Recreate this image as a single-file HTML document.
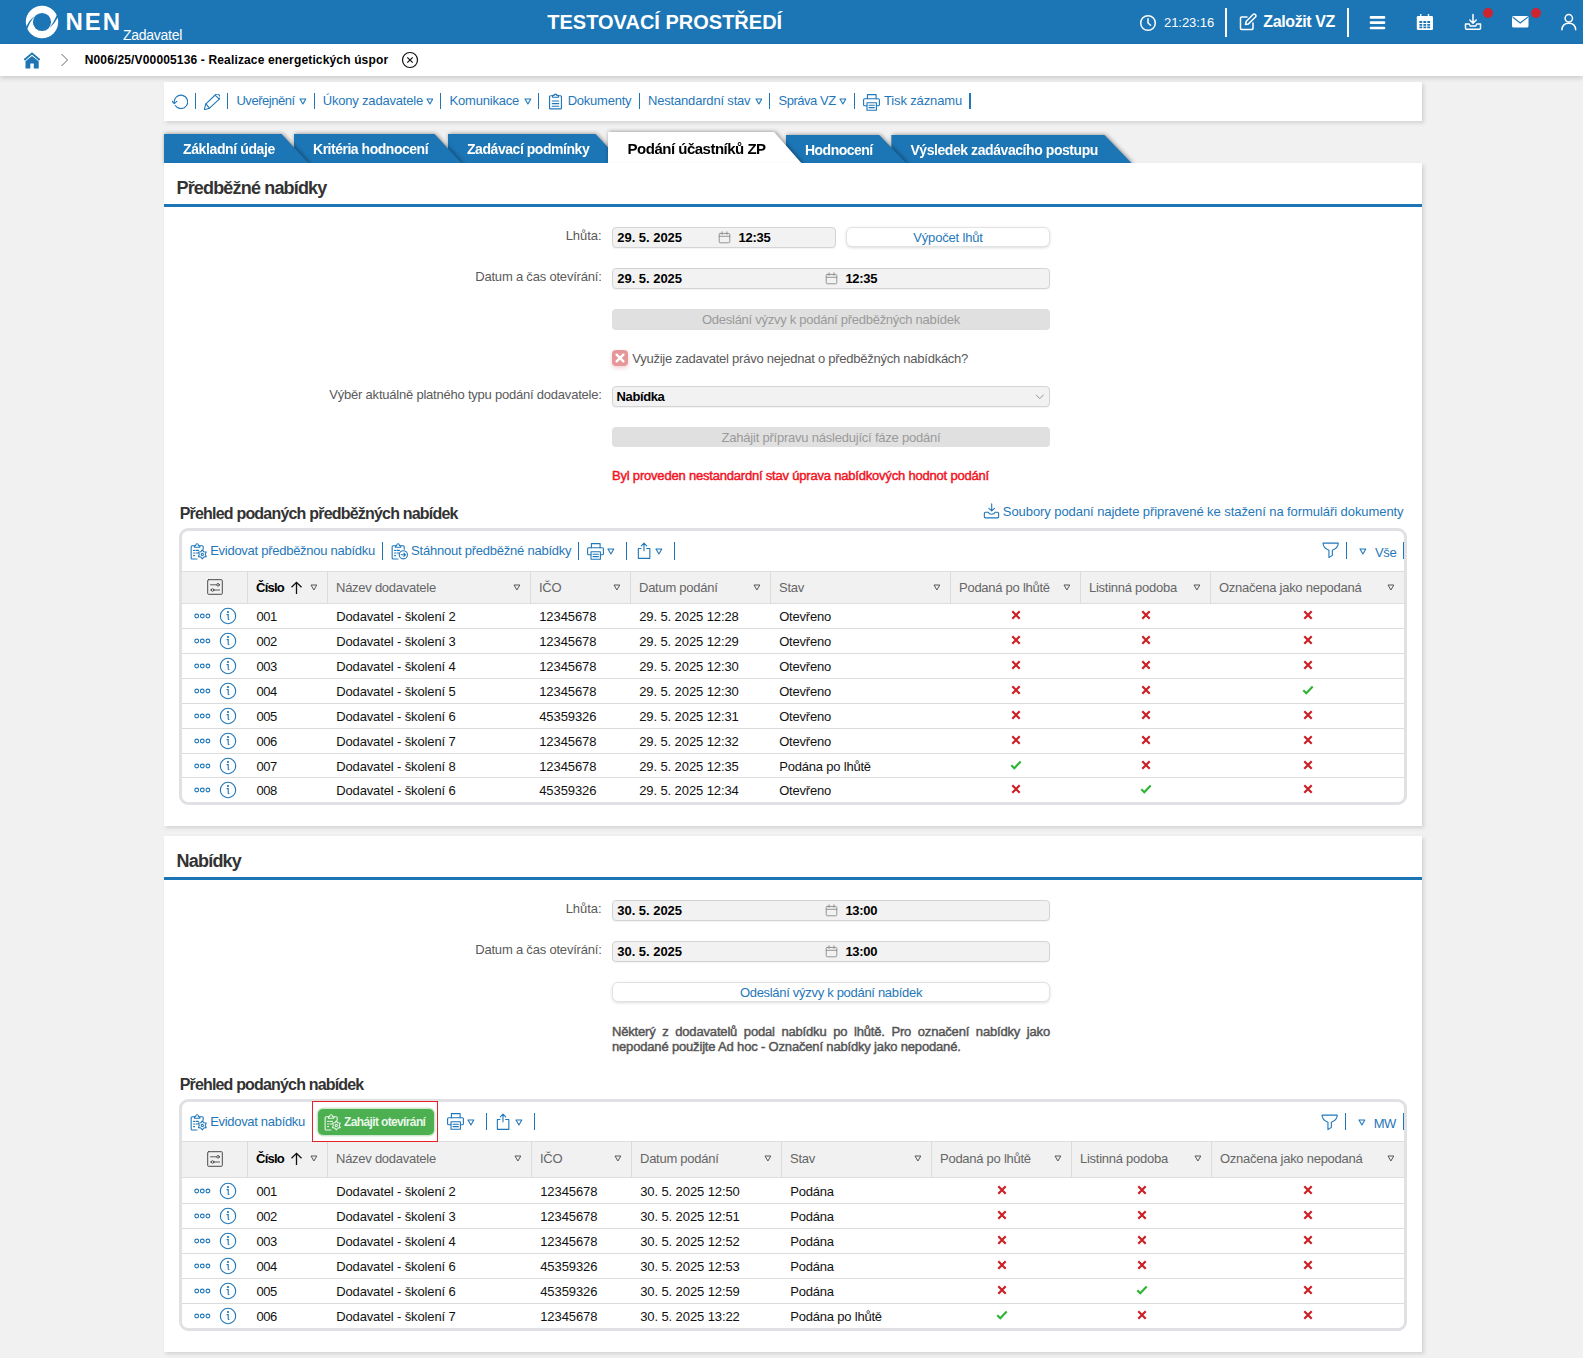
<!DOCTYPE html>
<html lang="cs"><head><meta charset="utf-8"><title>NEN - Podání účastníků ZP</title>
<style>
html,body{margin:0;padding:0}
body{width:1583px;height:1358px;position:relative;overflow:hidden;background:#f1f1f1;font-family:"Liberation Sans",sans-serif;font-size:13px;color:#111}
.abs{position:absolute}
.t{white-space:nowrap;letter-spacing:-0.22px}
.b{font-weight:700}
.m{font-weight:400;-webkit-text-stroke:0.45px currentColor}
.lk{color:#1f77ba}
.gr{color:#5a5a5a}
.panel{position:absolute;background:#fff;box-shadow:2px 2px 4px rgba(0,0,0,.13)}
.inp{position:absolute;box-sizing:border-box;background:#f2f2f2;border:1px solid #d4d4d4;border-radius:4px;box-shadow:0 1px 1px rgba(0,0,0,.05)}
.btnd{position:absolute;background:#e0e0e0;border-radius:4px;color:#9a9a9a;text-align:center}
.btnw{position:absolute;box-sizing:border-box;background:#fff;border:1px solid #e2e2e2;border-radius:6px;color:#1f77ba;text-align:center;box-shadow:0 1px 3px rgba(0,0,0,.14)}
.grid{position:absolute;box-sizing:border-box;border:3px solid #dfe1e4;border-radius:9px;background:#fff}
.hd{position:absolute;background:#f1f1f1;border-top:1px solid #dedede;border-bottom:1px solid #dedede;box-sizing:border-box}
.vl{position:absolute;width:1px;background:#dcdcdc}
.hl{position:absolute;height:1px;background:#dcdcdc}
.tab{position:absolute;background:#1c75b4;color:#fff;font-weight:700;font-size:14px;box-sizing:border-box;padding-left:19px;white-space:nowrap}
.tw{position:absolute;filter:drop-shadow(1px 0 2px rgba(0,0,0,.45))}
</style></head><body>
<div class="abs" style="left:0;top:0;width:1583px;height:44px;background:#1c75b4"></div><svg class="abs" style="left:24px;top:4px" width="36" height="36" viewBox="-18 -18 36 36"><circle cx="0" cy="0" r="16.200" fill="#fff"/><circle cx="0" cy="0" r="9.100" fill="#1c75b4"/><path d="M-7.400 -6.300Q-12.600 -2 -16.300 5.200L-15.200 7.700Q-12.200 0.300 -7.900 -5.500Z" fill="#1c75b4"/><path d="M7.400 6.300Q12.600 2 16.300 -5.200L15.200 -7.700Q12.200 -0.300 7.900 5.500Z" fill="#1c75b4"/></svg><div class="abs t b" style="left:65.5px;top:6px;height:32px;line-height:32px;font-size:24px;letter-spacing:2px;color:#fff">NEN</div><div class="abs t " style="left:123px;top:26px;height:18px;line-height:18px;font-size:14px;color:#fff;letter-spacing:-0.28px">Zadavatel</div><div class="abs t b" style="left:547.3px;top:9px;height:26px;line-height:26px;font-size:20px;color:#fff;letter-spacing:0px">TESTOVACÍ PROSTŘEDÍ</div><svg class="abs" style="left:1139px;top:13.500px" width="18" height="18" viewBox="0 0 18 18" fill="none" stroke="#fff" stroke-width="1.500" stroke-linecap="round" stroke-linejoin="round"><circle cx="9" cy="9" r="7.300"/><path d="M9 4.800V9l2.600 2.200"/></svg><div class="abs t " style="left:1164px;top:14px;height:18px;line-height:18px;color:#fff;letter-spacing:-0.05px">21:23:16</div><div class="abs" style="left:1225.0px;top:8px;width:2px;height:29px;background:#fff"></div><svg class="abs" style="left:1239px;top:12.500px" width="18" height="18" viewBox="0 0 18 18" fill="none" stroke="#fff" stroke-width="1.500" stroke-linecap="round" stroke-linejoin="round"><path d="M14 10v5.500a1 1 0 0 1-1 1H2.500a1 1 0 0 1-1-1V5a1 1 0 0 1 1-1H8"/><path d="M6.500 11.500l.6-3L14.300 1.300a1.200 1.200 0 0 1 1.700 0l.7.700a1.200 1.200 0 0 1 0 1.700L9.500 10.900z"/></svg><div class="abs t b" style="left:1263.3px;top:11px;height:22px;line-height:22px;font-size:16px;color:#fff;letter-spacing:-0.39px">Založit VZ</div><div class="abs" style="left:1347.3px;top:8px;width:2px;height:29px;background:#fff"></div><svg class="abs" style="left:1368.500px;top:14.500px" width="17" height="16" viewBox="0 0 17 16"><path d="M2 2.400h13M2 7.700h13M2 13h13" stroke="#fff" stroke-width="2.700" stroke-linecap="round"/></svg><svg class="abs" style="left:1416px;top:14px" width="18" height="17" viewBox="0 0 18 17"><rect x=".800" y="2" width="16.200" height="14" rx="1.300" fill="#fff"/><path d="M4.700 .300v3M12.500 .300v3" stroke="#fff" stroke-width="1.400" stroke-linecap="round"/><path d="M3.4 6.9h2.800v2.1h-2.800zM3.4 9.9h2.800v1.9h-2.800zM3.4 12.5h2.800v1.7h-2.800zM7.4 6.9h2.800v2.1h-2.800zM7.4 9.9h2.800v1.9h-2.800zM7.4 12.5h2.800v1.7h-2.800zM11.3 6.9h2.800v2.1h-2.800zM11.3 9.9h2.800v1.9h-2.800zM11.3 12.5h2.800v1.7h-2.800z" fill="#1c75b4"/></svg><svg class="abs" style="left:1464px;top:13px" width="18" height="18" viewBox="0 0 18 18" fill="none" stroke="#fff" stroke-width="1.500" stroke-linecap="round" stroke-linejoin="round"><path d="M9 1.500v8.500M5.800 7L9 10.200L12.200 7"/><path d="M1.500 11h3.800l.9 2h5.600l.9-2h3.800v4.200a1 1 0 0 1-1 1H2.500a1 1 0 0 1-1-1z"/></svg><div class="abs" style="left:1483px;top:8px;width:10px;height:10px;border-radius:50%;background:#cc2530"></div><svg class="abs" style="left:1512.300px;top:16.300px" width="16.500" height="11.500" viewBox="0 0 16.500 11.500"><rect x="0" y="0" width="16.500" height="11.500" rx="1.500" fill="#fff"/><path d="M.800 1.200L8.250 7L15.700 1.200" stroke="#1c75b4" stroke-width="1.100" fill="none"/></svg><div class="abs" style="left:1531px;top:8px;width:10px;height:10px;border-radius:50%;background:#cc2530"></div><svg class="abs" style="left:1560px;top:13px" width="18" height="18" viewBox="0 0 18 18" fill="none" stroke="#fff" stroke-width="1.500" stroke-linecap="round"><circle cx="8.800" cy="5.300" r="3.700"/><path d="M1.900 16.800c.3-4.300 3.200-6.500 6.900-6.500s6.600 2.200 6.900 6.500"/></svg><div class="abs" style="left:0;top:44px;width:1583px;height:32px;background:#fff;box-shadow:0 2px 5px rgba(0,0,0,.17)"></div><svg class="abs" style="left:24px;top:51.500px" width="16" height="17" viewBox="0 0 16 17"><path d="M0.900 7.500L8 1.400L15.100 7.500" fill="none" stroke="#1c75b4" stroke-width="1.900" stroke-linecap="round" stroke-linejoin="miter"/><path d="M1.500 9.300L8 4.100L14.700 9.300V16.400H9.800V11.400H6.300V16.400H1.500Z" fill="#1c75b4"/></svg><svg class="abs" style="left:60px;top:53px" width="9" height="14" viewBox="0 0 9 14"><path d="M1.500 1L7.500 7L1.500 13" fill="none" stroke="#666" stroke-width="1"/></svg><div class="abs t b" style="left:84.7px;top:51px;height:18px;line-height:18px;font-size:12px;letter-spacing:0.15px;color:#000">N006/25/V00005136 - Realizace energetických úspor</div><svg class="abs" style="left:401px;top:51px" width="18" height="18" viewBox="0 0 18 18" fill="none" stroke="#111" stroke-width="1.200"><circle cx="9" cy="9" r="7.500"/><path d="M6.300 6.300l5.400 5.400M11.700 6.300l-5.400 5.400"/></svg><div class="panel" style="left:164px;top:82px;width:1258px;height:39px"></div><svg class="abs" style="left:172px;top:93px;color:#1f77ba" width="16" height="16" viewBox="0 0 16 16" fill="none" stroke="currentColor" stroke-width="1.1" stroke-linecap="round" stroke-linejoin="round"><path d="M3.300 12.500A6.700 6.700 0 1 0 2.300 9.800" /><path d="M0.100 8.200L2.300 10.700L4.900 8.400" /></svg><div class="abs" style="left:194.85px;top:93px;width:1.3px;height:16px;background:#1f77ba"></div><svg class="abs" style="left:204px;top:94px;color:#1f77ba" width="16" height="16" viewBox="0 0 16 16" fill="none" stroke="currentColor" stroke-width="1.1" stroke-linecap="round" stroke-linejoin="round"><path d="M0.200 15.700L1.900 9.900L11.200 1.000A2.900 2.900 0 0 1 15.300 5.100L5.500 14.200Z"/><path d="M1.900 9.900L5.500 14.200M11.600 1.600L14.700 4.700"/></svg><div class="abs" style="left:226.65px;top:93px;width:1.3px;height:16px;background:#1f77ba"></div><div class="abs t lk" style="left:236.4px;top:92px;height:18px;line-height:18px;letter-spacing:-0.45px">Uveřejnění</div><svg class="abs" style="left:298.9px;top:97.6px" width="7.8" height="7.0" viewBox="-1 -1 7.8 7.0"><path d="M0 0H5.8L2.9 5.0Z" fill="none" stroke="#1f77ba" stroke-width="1.1" stroke-linejoin="round"/></svg><div class="abs" style="left:313.85px;top:93px;width:1.3px;height:16px;background:#1f77ba"></div><div class="abs t lk" style="left:322.8px;top:92px;height:18px;line-height:18px;letter-spacing:-0.2px">Úkony zadavatele</div><svg class="abs" style="left:425.7px;top:97.6px" width="7.8" height="7.0" viewBox="-1 -1 7.8 7.0"><path d="M0 0H5.8L2.9 5.0Z" fill="none" stroke="#1f77ba" stroke-width="1.1" stroke-linejoin="round"/></svg><div class="abs" style="left:439.95000000000005px;top:93px;width:1.3px;height:16px;background:#1f77ba"></div><div class="abs t lk" style="left:449.5px;top:92px;height:18px;line-height:18px;letter-spacing:-0.2px">Komunikace</div><svg class="abs" style="left:524.2px;top:97.6px" width="7.8" height="7.0" viewBox="-1 -1 7.8 7.0"><path d="M0 0H5.8L2.9 5.0Z" fill="none" stroke="#1f77ba" stroke-width="1.1" stroke-linejoin="round"/></svg><div class="abs" style="left:537.95px;top:93px;width:1.3px;height:16px;background:#1f77ba"></div><svg class="abs" style="left:547px;top:92.5px;color:#1f77ba" width="17" height="17" viewBox="0 0 16 16" fill="none" stroke="currentColor" stroke-width="1.1" stroke-linecap="round" stroke-linejoin="round"><path d="M5.2 2.6H3.3a.9.9 0 0 0-.9.9v10.6a.9.9 0 0 0 .9.9h9.4a.9.9 0 0 0 .9-.9V3.500a.9.9 0 0 0-.9-.9H10.8"/><path d="M5.3 4V2.3h1.4a1.3 1.3 0 0 1 2.600 0h1.4V4z"/><path d="M5 7.500h6M5 10h6M5 12.500h6"/></svg><div class="abs t lk" style="left:567.7px;top:92px;height:18px;line-height:18px;letter-spacing:-0.23px">Dokumenty</div><div class="abs" style="left:639.0500000000001px;top:93px;width:1.3px;height:16px;background:#1f77ba"></div><div class="abs t lk" style="left:648px;top:92px;height:18px;line-height:18px;letter-spacing:-0.18px">Nestandardní stav</div><svg class="abs" style="left:754.55px;top:97.6px" width="7.8" height="7.0" viewBox="-1 -1 7.8 7.0"><path d="M0 0H5.8L2.9 5.0Z" fill="none" stroke="#1f77ba" stroke-width="1.1" stroke-linejoin="round"/></svg><div class="abs" style="left:768.65px;top:93px;width:1.3px;height:16px;background:#1f77ba"></div><div class="abs t lk" style="left:778.6px;top:92px;height:18px;line-height:18px;letter-spacing:-0.49px">Správa VZ</div><svg class="abs" style="left:839.4px;top:97.6px" width="7.8" height="7.0" viewBox="-1 -1 7.8 7.0"><path d="M0 0H5.8L2.9 5.0Z" fill="none" stroke="#1f77ba" stroke-width="1.1" stroke-linejoin="round"/></svg><div class="abs" style="left:853.75px;top:93px;width:1.3px;height:16px;background:#1f77ba"></div><svg class="abs" style="left:863.2px;top:93.5px;color:#1f77ba" width="17" height="17" viewBox="0 0 17 17" fill="none" stroke="currentColor" stroke-width="1.1" stroke-linecap="round" stroke-linejoin="round"><path d="M4.400 4.800V0.600h8.700V4.800"/><path d="M4 11.700H1.600a1 1 0 0 1-1-1V5.800a1 1 0 0 1 1-1h13.800a1 1 0 0 1 1 1v4.900a1 1 0 0 1-1 1H13.400"/><path d="M4 8.700h9.400v7.500H4z"/><path d="M6 11.200h5.400M6 13.600h5.400"/></svg><div class="abs t lk" style="left:884px;top:92px;height:18px;line-height:18px;letter-spacing:-0.14px">Tisk záznamu</div><div class="abs" style="left:969.35px;top:93px;width:1.3px;height:16px;background:#1f77ba"></div><div class="tw" style="left:164px;top:134px;z-index:20"><div class="tab" style="left:0;top:0;width:145.5px;height:30px;line-height:31px;letter-spacing:-0.38px;clip-path:polygon(0 0,117.5px 0,145.5px 100%,0 100%);">Základní údaje</div></div><div class="tw" style="left:294px;top:134px;z-index:19"><div class="tab" style="left:0;top:0;width:168.5px;height:30px;line-height:31px;letter-spacing:-0.48px;clip-path:polygon(0 0,140.5px 0,168.5px 100%,0 100%);">Kritéria hodnocení</div></div><div class="tw" style="left:448px;top:134px;z-index:18"><div class="tab" style="left:0;top:0;width:175.5px;height:30px;line-height:31px;letter-spacing:-0.45px;clip-path:polygon(0 0,147.5px 0,175.5px 100%,0 100%);">Zadávací podmínky</div></div><div class="tw" style="left:608px;top:132px;z-index:29"><div class="tab" style="left:0;top:0;width:194.2px;height:32px;line-height:33px;letter-spacing:-0.5px;clip-path:polygon(0 0,166.2px 0,194.2px 100%,0 100%);background:#fff;color:#000;font-size:15px;padding-left:19.600px;">Podání účastníků ZP</div></div><div class="tw" style="left:786px;top:135px;z-index:16"><div class="tab" style="left:0;top:0;width:121.2px;height:29px;line-height:30px;letter-spacing:-0.52px;clip-path:polygon(0 0,93.2px 0,121.2px 100%,0 100%);">Hodnocení</div></div><div class="tw" style="left:891.4px;top:135px;z-index:15"><div class="tab" style="left:0;top:0;width:241.0px;height:29px;line-height:30px;letter-spacing:-0.43px;clip-path:polygon(0 0,213.0px 0,241.0px 100%,0 100%);">Výsledek zadávacího postupu</div></div><div class="panel" style="left:164px;top:163px;width:1258px;height:663px;z-index:30"></div><div class="abs" style="z-index:31;left:0;top:0;width:1583px;height:0"><div class="abs t b" style="left:176.5px;top:175px;height:26px;line-height:26px;font-size:18px;letter-spacing:-0.83px;color:#333">Předběžné nabídky</div><div class="abs" style="left:164px;top:204px;width:1258px;height:3px;background:#1c75b4"></div><div class="abs t gr" style="right:981.4px;top:225px;height:21px;line-height:21px;letter-spacing:-0.03px">Lhůta:</div><div class="inp" style="left:612px;top:227px;width:224px;height:21px"></div><svg class="abs" style="left:717.5px;top:230.5px;color:#8a8a8a" width="13" height="13" viewBox="0 0 16 16" fill="none" stroke="currentColor" stroke-width="1.1" stroke-linecap="round" stroke-linejoin="round"><rect x="1.500" y="3" width="13" height="11.500" rx="1.200"/><path d="M1.500 6.500h13M5 1v3.200M11 1v3.200"/></svg><div class="abs t b" style="left:738.6px;top:227px;height:21px;line-height:21px;letter-spacing:-0.29px;color:#000">12:35</div><div class="btnw t" style="left:846px;top:227px;width:204px;height:20px;line-height:19px;letter-spacing:-0.17px">Výpočet lhůt</div><div class="abs t b" style="left:617.3px;top:227px;height:21px;line-height:21px;letter-spacing:-0.03px;color:#000">29. 5. 2025</div><div class="abs t gr" style="right:981.4px;top:266px;height:21px;line-height:21px;letter-spacing:-0.2px">Datum a čas otevírání:</div><div class="inp" style="left:612px;top:268px;width:438px;height:21px"></div><svg class="abs" style="left:824.5px;top:271.5px;color:#8a8a8a" width="13" height="13" viewBox="0 0 16 16" fill="none" stroke="currentColor" stroke-width="1.1" stroke-linecap="round" stroke-linejoin="round"><rect x="1.500" y="3" width="13" height="11.500" rx="1.200"/><path d="M1.500 6.500h13M5 1v3.200M11 1v3.200"/></svg><div class="abs t b" style="left:617.3px;top:268px;height:21px;line-height:21px;letter-spacing:-0.03px;color:#000">29. 5. 2025</div><div class="abs t b" style="left:845.4px;top:268px;height:21px;line-height:21px;letter-spacing:-0.29px;color:#000">12:35</div><div class="btnd t" style="left:612px;top:309px;width:438px;height:21px;line-height:21px;letter-spacing:-0.27px">Odeslání výzvy k podání předběžných nabídek</div><div class="abs" style="left:612px;top:350px;width:16px;height:16px;border-radius:4px;background:#e5979a;box-shadow:0 2px 4px rgba(229,151,154,.45)"></div><svg class="abs" style="left:612px;top:350px" width="16" height="16" viewBox="0 0 16 16"><path d="M4.600 4.600l6.800 6.800M11.400 4.600l-6.800 6.800" stroke="#fff" stroke-width="2.300" stroke-linecap="round"/></svg><div class="abs t gr" style="left:632.3px;top:350px;height:18px;line-height:18px;letter-spacing:-0.25px">Využije zadavatel právo nejednat o předběžných nabídkách?</div><div class="abs t gr" style="right:981.4px;top:383.5px;height:21px;line-height:21px;letter-spacing:-0.22px">Výběr aktuálně platného typu podání dodavatele:</div><div class="inp" style="left:612px;top:386px;width:438px;height:21px"></div><div class="abs t b" style="left:616.6px;top:387px;height:20px;line-height:20px;letter-spacing:-0.4px;color:#000">Nabídka</div><svg class="abs" style="left:1034.500px;top:393.500px" width="10" height="6" viewBox="0 0 10 6"><path d="M1 .800l3.800 3.800L8.600 .800" fill="none" stroke="#888" stroke-width=".900"/></svg><div class="btnd t" style="left:612px;top:427px;width:438px;height:20px;line-height:21.500px;letter-spacing:-0.22px">Zahájit přípravu následující fáze podání</div><div class="abs t m" style="left:612px;top:467px;height:18px;line-height:18px;letter-spacing:-0.2px;color:#f2131f">Byl proveden nestandardní stav úprava nabídkových hodnot podání</div><div class="abs t b" style="left:179.7px;top:503px;height:22px;line-height:22px;font-size:16px;letter-spacing:-0.8px;color:#333">Přehled podaných předběžných nabídek</div><svg class="abs" style="left:982.5px;top:503px;color:#1f77ba" width="17" height="17" viewBox="0 0 17 17" fill="none" stroke="currentColor" stroke-width="1.1" stroke-linecap="round" stroke-linejoin="round"><path d="M8.700 .900V7.600M5.900 5.300L8.700 7.900L11.500 5.300"/><path d="M1.350 10.300a1 1 0 0 1 1-1H5.200c.6 1.400 1.800 2 3.500 2s2.900-.6 3.500-2h2.450a1 1 0 0 1 1 1v3.550a1 1 0 0 1-1 1H2.350a1 1 0 0 1-1-1z"/></svg><div class="abs t lk" style="left:1002.8px;top:503px;height:18px;line-height:18px;letter-spacing:-0.07px">Soubory podaní najdete připravené ke stažení na formuláři dokumenty</div><div class="grid" style="left:179px;top:528.2px;width:1228px;height:277.0999999999999px"></div><svg class="abs" style="left:189.5px;top:542.5px;color:#1f77ba" width="17" height="17" viewBox="0 0 17 17" fill="none" stroke="currentColor" stroke-width="1.1" stroke-linecap="round" stroke-linejoin="round"><path d="M4.300 2.800H2.150a1 1 0 0 0-1 1V14.950a1 1 0 0 0 1 1H7"/><path d="M9.900 2.800H12.200a1 1 0 0 1 1 1V6.300"/><path d="M4.400 4.300V2.700h1.200c.2-1.200.9-1.900 1.500-1.900s1.300.7 1.500 1.900h1.200V4.300z"/><path d="M3.600 7.400h1M6 7.400h2.400M3.600 10h1M6 10h1.600M3.600 12.600h1"/><path d="M12.30 6.90L13.80 8.80L16.20 9.15L15.30 11.40L16.20 13.65L13.80 14.00L12.30 15.90L10.80 14.00L8.40 13.65L9.30 11.40L8.40 9.15L10.80 8.80Z"/><circle cx="12.300" cy="11.400" r="1.100"/></svg><div class="abs t lk" style="left:210.2px;top:542px;height:18px;line-height:18px;letter-spacing:-0.27px">Evidovat předběžnou nabídku</div><div class="abs" style="left:381.95000000000005px;top:541.5px;width:1.3px;height:18.200000000000045px;background:#1f77ba"></div><svg class="abs" style="left:390.6px;top:542.5px;color:#1f77ba" width="17" height="17" viewBox="0 0 17 17" fill="none" stroke="currentColor" stroke-width="1.1" stroke-linecap="round" stroke-linejoin="round"><path d="M4.300 2.800H2.150a1 1 0 0 0-1 1V14.950a1 1 0 0 0 1 1H7"/><path d="M9.900 2.800H12.200a1 1 0 0 1 1 1V6.300"/><path d="M4.400 4.300V2.700h1.200c.2-1.200.9-1.900 1.500-1.900s1.300.7 1.500 1.900h1.200V4.300z"/><path d="M3.600 7.400h1M6 7.400h2.400M3.600 10h1M6 10h1.600M3.600 12.600h1"/><circle cx="12.350" cy="11.800" r="4.100"/><path d="M10.200 11.800h4.200M12.900 10.200l1.600 1.600l-1.600 1.600"/></svg><div class="abs t lk" style="left:411.1px;top:542px;height:18px;line-height:18px;letter-spacing:-0.23px">Stáhnout předběžné nabídky</div><div class="abs" style="left:577.95px;top:541.8px;width:1.3px;height:18.200000000000045px;background:#1f77ba"></div><svg class="abs" style="left:587px;top:542.6px;color:#1f77ba" width="17" height="17" viewBox="0 0 17 17" fill="none" stroke="currentColor" stroke-width="1.1" stroke-linecap="round" stroke-linejoin="round"><path d="M4.400 4.800V0.600h8.700V4.800"/><path d="M4 11.700H1.600a1 1 0 0 1-1-1V5.800a1 1 0 0 1 1-1h13.800a1 1 0 0 1 1 1v4.900a1 1 0 0 1-1 1H13.400"/><path d="M4 8.700h9.400v7.500H4z"/><path d="M6 11.200h5.400M6 13.600h5.400"/></svg><svg class="abs" style="left:607.4px;top:547.5px" width="7.8" height="7.0" viewBox="-1 -1 7.8 7.0"><path d="M0 0H5.8L2.9 5.0Z" fill="none" stroke="#1f77ba" stroke-width="1.1" stroke-linejoin="round"/></svg><div class="abs" style="left:625.85px;top:541.5px;width:1.3px;height:18.200000000000045px;background:#1f77ba"></div><svg class="abs" style="left:635.5px;top:542px;color:#1f77ba" width="17" height="17" viewBox="0 0 17 17" fill="none" stroke="currentColor" stroke-width="1.1" stroke-linecap="round" stroke-linejoin="round"><path d="M4.900 6.550H2.350V16.350H13.850V6.550H10.600"/><path d="M8 8.700V1.300M5.300 3.900L8 1.200L10.700 3.900"/></svg><svg class="abs" style="left:655.1px;top:547.5px" width="7.8" height="7.0" viewBox="-1 -1 7.8 7.0"><path d="M0 0H5.8L2.9 5.0Z" fill="none" stroke="#1f77ba" stroke-width="1.1" stroke-linejoin="round"/></svg><div class="abs" style="left:673.65px;top:541.5px;width:1.3px;height:18.200000000000045px;background:#1f77ba"></div><svg class="abs" style="left:1322.3px;top:542.45px;color:#1f77ba" width="17" height="17" viewBox="0 0 17 17" fill="none" stroke="currentColor" stroke-width="1.1" stroke-linecap="round" stroke-linejoin="round"><path d="M1 1.100H16.300C16.300 5 13 7.200 10.350 8.200V13.400L6.950 15.600V8.200C4.300 7.200 1 5 1 1.100Z"/></svg><div class="abs" style="left:1346.05px;top:541.85px;width:1.3px;height:17.5px;background:#1f77ba"></div><svg class="abs" style="left:1359.1px;top:547.75px" width="7.8" height="7.0" viewBox="-1 -1 7.8 7.0"><path d="M0 0H5.8L2.9 5.0Z" fill="none" stroke="#1f77ba" stroke-width="1.1" stroke-linejoin="round"/></svg><div class="abs t lk" style="left:1375px;top:544px;height:17px;line-height:17px;letter-spacing:-0.3px">Vše</div><div class="abs" style="left:1402.9499999999998px;top:541.85px;width:1.3px;height:17.5px;background:#1f77ba"></div><div class="hd" style="left:182px;top:570.5px;width:1222px;height:33px"></div><div class="vl" style="left:247px;top:570.5px;height:33px"></div><div class="vl" style="left:327px;top:570.5px;height:33px"></div><div class="vl" style="left:530px;top:570.5px;height:33px"></div><div class="vl" style="left:630px;top:570.5px;height:33px"></div><div class="vl" style="left:770px;top:570.5px;height:33px"></div><div class="vl" style="left:950px;top:570.5px;height:33px"></div><div class="vl" style="left:1080px;top:570.5px;height:33px"></div><div class="vl" style="left:1210px;top:570.5px;height:33px"></div><svg class="abs" style="left:207px;top:579.4px;color:#4a4a4a" width="16" height="16" viewBox="0 0 16 16" fill="none" stroke="currentColor" stroke-width="1" stroke-linecap="round" stroke-linejoin="round"><rect x=".700" y=".700" width="14.600" height="14.600" rx=".800"/><g stroke-width=".900"><path d="M3.500 5.800h6M12.400 5.800H12.600M3.500 11h.800M6.700 11H12.600"/><circle cx="11" cy="5.800" r="1.300"/><circle cx="5.600" cy="11" r="1.300"/></g></svg><div class="abs t b" style="left:256px;top:578.5px;height:18px;line-height:18px;letter-spacing:-0.76px;color:#000">Číslo</div><svg class="abs" style="left:290px;top:580.5px" width="13" height="14" viewBox="0 0 13 14"><path d="M6.500 13V1.500M1.500 6.300L6.500 1.300L11.500 6.300" fill="none" stroke="#111" stroke-width="1.300"/></svg><svg class="abs" style="left:309.6px;top:584.1px" width="7.8" height="7" viewBox="-1 -1 7.8 7"><path d="M0 0H5.8L2.9 5Z" fill="none" stroke="#555" stroke-width="1" stroke-linejoin="round"/></svg><div class="abs t " style="left:336px;top:578.5px;height:18px;line-height:18px;letter-spacing:-0.26px;color:#666">Název dodavatele</div><svg class="abs" style="left:512.6px;top:584.1px" width="7.8" height="7" viewBox="-1 -1 7.8 7"><path d="M0 0H5.8L2.9 5Z" fill="none" stroke="#555" stroke-width="1" stroke-linejoin="round"/></svg><div class="abs t " style="left:539px;top:578.5px;height:18px;line-height:18px;letter-spacing:-0.26px;color:#666">IČO</div><svg class="abs" style="left:612.6px;top:584.1px" width="7.8" height="7" viewBox="-1 -1 7.8 7"><path d="M0 0H5.8L2.9 5Z" fill="none" stroke="#555" stroke-width="1" stroke-linejoin="round"/></svg><div class="abs t " style="left:639px;top:578.5px;height:18px;line-height:18px;letter-spacing:-0.26px;color:#666">Datum podání</div><svg class="abs" style="left:752.6px;top:584.1px" width="7.8" height="7" viewBox="-1 -1 7.8 7"><path d="M0 0H5.8L2.9 5Z" fill="none" stroke="#555" stroke-width="1" stroke-linejoin="round"/></svg><div class="abs t " style="left:779px;top:578.5px;height:18px;line-height:18px;letter-spacing:-0.26px;color:#666">Stav</div><svg class="abs" style="left:932.6px;top:584.1px" width="7.8" height="7" viewBox="-1 -1 7.8 7"><path d="M0 0H5.8L2.9 5Z" fill="none" stroke="#555" stroke-width="1" stroke-linejoin="round"/></svg><div class="abs t " style="left:959px;top:578.5px;height:18px;line-height:18px;letter-spacing:-0.26px;color:#666">Podaná po lhůtě</div><svg class="abs" style="left:1062.6px;top:584.1px" width="7.8" height="7" viewBox="-1 -1 7.8 7"><path d="M0 0H5.8L2.9 5Z" fill="none" stroke="#555" stroke-width="1" stroke-linejoin="round"/></svg><div class="abs t " style="left:1089px;top:578.5px;height:18px;line-height:18px;letter-spacing:-0.26px;color:#666">Listinná podoba</div><svg class="abs" style="left:1192.6px;top:584.1px" width="7.8" height="7" viewBox="-1 -1 7.8 7"><path d="M0 0H5.8L2.9 5Z" fill="none" stroke="#555" stroke-width="1" stroke-linejoin="round"/></svg><div class="abs t " style="left:1219px;top:578.5px;height:18px;line-height:18px;letter-spacing:-0.26px;color:#666">Označena jako nepodaná</div><svg class="abs" style="left:1386.6px;top:584.1px" width="7.8" height="7" viewBox="-1 -1 7.8 7"><path d="M0 0H5.8L2.9 5Z" fill="none" stroke="#555" stroke-width="1" stroke-linejoin="round"/></svg><div class="hl" style="left:182px;top:628px;width:1222px"></div><svg class="abs" style="left:193.5px;top:613px" width="17" height="6" viewBox="0 0 17 6" fill="none" stroke="#1f77ba" stroke-width="1.100"><circle cx="2.7" cy="3" r="1.900"/><circle cx="8.3" cy="3" r="1.900"/><circle cx="13.899999999999999" cy="3" r="1.900"/></svg><svg class="abs" style="left:218.9px;top:607px" width="18" height="18" viewBox="0 0 18 18" fill="none" stroke="#1f77ba" stroke-width="1.100" stroke-linecap="round"><circle cx="9" cy="9" r="7.700"/><path d="M8 7.600h1.200v4.300c0 .5.300.7.800.6"/><circle cx="9" cy="5" r=".5" fill="#1f77ba"/></svg><div class="abs t " style="left:256.5px;top:608px;height:17px;line-height:17px;letter-spacing:-0.45px">001</div><div class="abs t " style="left:336.2px;top:608px;height:17px;line-height:17px;letter-spacing:-0.13px">Dodavatel - školení 2</div><div class="abs t " style="left:539.2px;top:608px;height:17px;line-height:17px;letter-spacing:-0.08px">12345678</div><div class="abs t " style="left:639.2px;top:608px;height:17px;line-height:17px;letter-spacing:-0.1px">29. 5. 2025 12:28</div><div class="abs t " style="left:779.2px;top:608px;height:17px;line-height:17px;letter-spacing:-0.2px">Otevřeno</div><svg class="abs" style="left:1011.2px;top:610px" width="10" height="10" viewBox="0 0 10 10"><path d="M1.300 1.300L8.700 8.700M8.700 1.300L1.300 8.700" stroke="#cd2026" stroke-width="2.200" fill="none"/></svg><svg class="abs" style="left:1141.2px;top:610px" width="10" height="10" viewBox="0 0 10 10"><path d="M1.300 1.300L8.700 8.700M8.700 1.300L1.300 8.700" stroke="#cd2026" stroke-width="2.200" fill="none"/></svg><svg class="abs" style="left:1302.8px;top:610px" width="10" height="10" viewBox="0 0 10 10"><path d="M1.300 1.300L8.700 8.700M8.700 1.300L1.300 8.700" stroke="#cd2026" stroke-width="2.200" fill="none"/></svg><div class="hl" style="left:182px;top:653px;width:1222px"></div><svg class="abs" style="left:193.5px;top:638px" width="17" height="6" viewBox="0 0 17 6" fill="none" stroke="#1f77ba" stroke-width="1.100"><circle cx="2.7" cy="3" r="1.900"/><circle cx="8.3" cy="3" r="1.900"/><circle cx="13.899999999999999" cy="3" r="1.900"/></svg><svg class="abs" style="left:218.9px;top:632px" width="18" height="18" viewBox="0 0 18 18" fill="none" stroke="#1f77ba" stroke-width="1.100" stroke-linecap="round"><circle cx="9" cy="9" r="7.700"/><path d="M8 7.600h1.200v4.300c0 .5.300.7.800.6"/><circle cx="9" cy="5" r=".5" fill="#1f77ba"/></svg><div class="abs t " style="left:256.5px;top:633px;height:17px;line-height:17px;letter-spacing:-0.45px">002</div><div class="abs t " style="left:336.2px;top:633px;height:17px;line-height:17px;letter-spacing:-0.13px">Dodavatel - školení 3</div><div class="abs t " style="left:539.2px;top:633px;height:17px;line-height:17px;letter-spacing:-0.08px">12345678</div><div class="abs t " style="left:639.2px;top:633px;height:17px;line-height:17px;letter-spacing:-0.1px">29. 5. 2025 12:29</div><div class="abs t " style="left:779.2px;top:633px;height:17px;line-height:17px;letter-spacing:-0.2px">Otevřeno</div><svg class="abs" style="left:1011.2px;top:635px" width="10" height="10" viewBox="0 0 10 10"><path d="M1.300 1.300L8.700 8.700M8.700 1.300L1.300 8.700" stroke="#cd2026" stroke-width="2.200" fill="none"/></svg><svg class="abs" style="left:1141.2px;top:635px" width="10" height="10" viewBox="0 0 10 10"><path d="M1.300 1.300L8.700 8.700M8.700 1.300L1.300 8.700" stroke="#cd2026" stroke-width="2.200" fill="none"/></svg><svg class="abs" style="left:1302.8px;top:635px" width="10" height="10" viewBox="0 0 10 10"><path d="M1.300 1.300L8.700 8.700M8.700 1.300L1.300 8.700" stroke="#cd2026" stroke-width="2.200" fill="none"/></svg><div class="hl" style="left:182px;top:678px;width:1222px"></div><svg class="abs" style="left:193.5px;top:663px" width="17" height="6" viewBox="0 0 17 6" fill="none" stroke="#1f77ba" stroke-width="1.100"><circle cx="2.7" cy="3" r="1.900"/><circle cx="8.3" cy="3" r="1.900"/><circle cx="13.899999999999999" cy="3" r="1.900"/></svg><svg class="abs" style="left:218.9px;top:657px" width="18" height="18" viewBox="0 0 18 18" fill="none" stroke="#1f77ba" stroke-width="1.100" stroke-linecap="round"><circle cx="9" cy="9" r="7.700"/><path d="M8 7.600h1.200v4.300c0 .5.300.7.800.6"/><circle cx="9" cy="5" r=".5" fill="#1f77ba"/></svg><div class="abs t " style="left:256.5px;top:658px;height:17px;line-height:17px;letter-spacing:-0.45px">003</div><div class="abs t " style="left:336.2px;top:658px;height:17px;line-height:17px;letter-spacing:-0.13px">Dodavatel - školení 4</div><div class="abs t " style="left:539.2px;top:658px;height:17px;line-height:17px;letter-spacing:-0.08px">12345678</div><div class="abs t " style="left:639.2px;top:658px;height:17px;line-height:17px;letter-spacing:-0.1px">29. 5. 2025 12:30</div><div class="abs t " style="left:779.2px;top:658px;height:17px;line-height:17px;letter-spacing:-0.2px">Otevřeno</div><svg class="abs" style="left:1011.2px;top:660px" width="10" height="10" viewBox="0 0 10 10"><path d="M1.300 1.300L8.700 8.700M8.700 1.300L1.300 8.700" stroke="#cd2026" stroke-width="2.200" fill="none"/></svg><svg class="abs" style="left:1141.2px;top:660px" width="10" height="10" viewBox="0 0 10 10"><path d="M1.300 1.300L8.700 8.700M8.700 1.300L1.300 8.700" stroke="#cd2026" stroke-width="2.200" fill="none"/></svg><svg class="abs" style="left:1302.8px;top:660px" width="10" height="10" viewBox="0 0 10 10"><path d="M1.300 1.300L8.700 8.700M8.700 1.300L1.300 8.700" stroke="#cd2026" stroke-width="2.200" fill="none"/></svg><div class="hl" style="left:182px;top:703px;width:1222px"></div><svg class="abs" style="left:193.5px;top:688px" width="17" height="6" viewBox="0 0 17 6" fill="none" stroke="#1f77ba" stroke-width="1.100"><circle cx="2.7" cy="3" r="1.900"/><circle cx="8.3" cy="3" r="1.900"/><circle cx="13.899999999999999" cy="3" r="1.900"/></svg><svg class="abs" style="left:218.9px;top:682px" width="18" height="18" viewBox="0 0 18 18" fill="none" stroke="#1f77ba" stroke-width="1.100" stroke-linecap="round"><circle cx="9" cy="9" r="7.700"/><path d="M8 7.600h1.200v4.300c0 .5.300.7.800.6"/><circle cx="9" cy="5" r=".5" fill="#1f77ba"/></svg><div class="abs t " style="left:256.5px;top:683px;height:17px;line-height:17px;letter-spacing:-0.45px">004</div><div class="abs t " style="left:336.2px;top:683px;height:17px;line-height:17px;letter-spacing:-0.13px">Dodavatel - školení 5</div><div class="abs t " style="left:539.2px;top:683px;height:17px;line-height:17px;letter-spacing:-0.08px">12345678</div><div class="abs t " style="left:639.2px;top:683px;height:17px;line-height:17px;letter-spacing:-0.1px">29. 5. 2025 12:30</div><div class="abs t " style="left:779.2px;top:683px;height:17px;line-height:17px;letter-spacing:-0.2px">Otevřeno</div><svg class="abs" style="left:1011.2px;top:685px" width="10" height="10" viewBox="0 0 10 10"><path d="M1.300 1.300L8.700 8.700M8.700 1.300L1.300 8.700" stroke="#cd2026" stroke-width="2.200" fill="none"/></svg><svg class="abs" style="left:1141.2px;top:685px" width="10" height="10" viewBox="0 0 10 10"><path d="M1.300 1.300L8.700 8.700M8.700 1.300L1.300 8.700" stroke="#cd2026" stroke-width="2.200" fill="none"/></svg><svg class="abs" style="left:1301.8px;top:685px" width="12" height="10" viewBox="0 0 12 10"><path d="M1.300 5.300L4.300 8.200L10.700 1.600" stroke="#2db432" stroke-width="2.200" fill="none"/></svg><div class="hl" style="left:182px;top:728px;width:1222px"></div><svg class="abs" style="left:193.5px;top:713px" width="17" height="6" viewBox="0 0 17 6" fill="none" stroke="#1f77ba" stroke-width="1.100"><circle cx="2.7" cy="3" r="1.900"/><circle cx="8.3" cy="3" r="1.900"/><circle cx="13.899999999999999" cy="3" r="1.900"/></svg><svg class="abs" style="left:218.9px;top:707px" width="18" height="18" viewBox="0 0 18 18" fill="none" stroke="#1f77ba" stroke-width="1.100" stroke-linecap="round"><circle cx="9" cy="9" r="7.700"/><path d="M8 7.600h1.200v4.300c0 .5.300.7.800.6"/><circle cx="9" cy="5" r=".5" fill="#1f77ba"/></svg><div class="abs t " style="left:256.5px;top:708px;height:17px;line-height:17px;letter-spacing:-0.45px">005</div><div class="abs t " style="left:336.2px;top:708px;height:17px;line-height:17px;letter-spacing:-0.13px">Dodavatel - školení 6</div><div class="abs t " style="left:539.2px;top:708px;height:17px;line-height:17px;letter-spacing:-0.08px">45359326</div><div class="abs t " style="left:639.2px;top:708px;height:17px;line-height:17px;letter-spacing:-0.1px">29. 5. 2025 12:31</div><div class="abs t " style="left:779.2px;top:708px;height:17px;line-height:17px;letter-spacing:-0.2px">Otevřeno</div><svg class="abs" style="left:1011.2px;top:710px" width="10" height="10" viewBox="0 0 10 10"><path d="M1.300 1.300L8.700 8.700M8.700 1.300L1.300 8.700" stroke="#cd2026" stroke-width="2.200" fill="none"/></svg><svg class="abs" style="left:1141.2px;top:710px" width="10" height="10" viewBox="0 0 10 10"><path d="M1.300 1.300L8.700 8.700M8.700 1.300L1.300 8.700" stroke="#cd2026" stroke-width="2.200" fill="none"/></svg><svg class="abs" style="left:1302.8px;top:710px" width="10" height="10" viewBox="0 0 10 10"><path d="M1.300 1.300L8.700 8.700M8.700 1.300L1.300 8.700" stroke="#cd2026" stroke-width="2.200" fill="none"/></svg><div class="hl" style="left:182px;top:753px;width:1222px"></div><svg class="abs" style="left:193.5px;top:738px" width="17" height="6" viewBox="0 0 17 6" fill="none" stroke="#1f77ba" stroke-width="1.100"><circle cx="2.7" cy="3" r="1.900"/><circle cx="8.3" cy="3" r="1.900"/><circle cx="13.899999999999999" cy="3" r="1.900"/></svg><svg class="abs" style="left:218.9px;top:732px" width="18" height="18" viewBox="0 0 18 18" fill="none" stroke="#1f77ba" stroke-width="1.100" stroke-linecap="round"><circle cx="9" cy="9" r="7.700"/><path d="M8 7.600h1.200v4.300c0 .5.300.7.800.6"/><circle cx="9" cy="5" r=".5" fill="#1f77ba"/></svg><div class="abs t " style="left:256.5px;top:733px;height:17px;line-height:17px;letter-spacing:-0.45px">006</div><div class="abs t " style="left:336.2px;top:733px;height:17px;line-height:17px;letter-spacing:-0.13px">Dodavatel - školení 7</div><div class="abs t " style="left:539.2px;top:733px;height:17px;line-height:17px;letter-spacing:-0.08px">12345678</div><div class="abs t " style="left:639.2px;top:733px;height:17px;line-height:17px;letter-spacing:-0.1px">29. 5. 2025 12:32</div><div class="abs t " style="left:779.2px;top:733px;height:17px;line-height:17px;letter-spacing:-0.2px">Otevřeno</div><svg class="abs" style="left:1011.2px;top:735px" width="10" height="10" viewBox="0 0 10 10"><path d="M1.300 1.300L8.700 8.700M8.700 1.300L1.300 8.700" stroke="#cd2026" stroke-width="2.200" fill="none"/></svg><svg class="abs" style="left:1141.2px;top:735px" width="10" height="10" viewBox="0 0 10 10"><path d="M1.300 1.300L8.700 8.700M8.700 1.300L1.300 8.700" stroke="#cd2026" stroke-width="2.200" fill="none"/></svg><svg class="abs" style="left:1302.8px;top:735px" width="10" height="10" viewBox="0 0 10 10"><path d="M1.300 1.300L8.700 8.700M8.700 1.300L1.300 8.700" stroke="#cd2026" stroke-width="2.200" fill="none"/></svg><div class="hl" style="left:182px;top:777px;width:1222px"></div><svg class="abs" style="left:193.5px;top:763px" width="17" height="6" viewBox="0 0 17 6" fill="none" stroke="#1f77ba" stroke-width="1.100"><circle cx="2.7" cy="3" r="1.900"/><circle cx="8.3" cy="3" r="1.900"/><circle cx="13.899999999999999" cy="3" r="1.900"/></svg><svg class="abs" style="left:218.9px;top:757px" width="18" height="18" viewBox="0 0 18 18" fill="none" stroke="#1f77ba" stroke-width="1.100" stroke-linecap="round"><circle cx="9" cy="9" r="7.700"/><path d="M8 7.600h1.200v4.300c0 .5.300.7.800.6"/><circle cx="9" cy="5" r=".5" fill="#1f77ba"/></svg><div class="abs t " style="left:256.5px;top:758px;height:17px;line-height:17px;letter-spacing:-0.45px">007</div><div class="abs t " style="left:336.2px;top:758px;height:17px;line-height:17px;letter-spacing:-0.13px">Dodavatel - školení 8</div><div class="abs t " style="left:539.2px;top:758px;height:17px;line-height:17px;letter-spacing:-0.08px">12345678</div><div class="abs t " style="left:639.2px;top:758px;height:17px;line-height:17px;letter-spacing:-0.1px">29. 5. 2025 12:35</div><div class="abs t " style="left:779.2px;top:758px;height:17px;line-height:17px;letter-spacing:-0.2px">Podána po lhůtě</div><svg class="abs" style="left:1010.2px;top:760px" width="12" height="10" viewBox="0 0 12 10"><path d="M1.300 5.300L4.300 8.200L10.700 1.600" stroke="#2db432" stroke-width="2.200" fill="none"/></svg><svg class="abs" style="left:1141.2px;top:760px" width="10" height="10" viewBox="0 0 10 10"><path d="M1.300 1.300L8.700 8.700M8.700 1.300L1.300 8.700" stroke="#cd2026" stroke-width="2.200" fill="none"/></svg><svg class="abs" style="left:1302.8px;top:760px" width="10" height="10" viewBox="0 0 10 10"><path d="M1.300 1.300L8.700 8.700M8.700 1.300L1.300 8.700" stroke="#cd2026" stroke-width="2.200" fill="none"/></svg><svg class="abs" style="left:193.5px;top:787px" width="17" height="6" viewBox="0 0 17 6" fill="none" stroke="#1f77ba" stroke-width="1.100"><circle cx="2.7" cy="3" r="1.900"/><circle cx="8.3" cy="3" r="1.900"/><circle cx="13.899999999999999" cy="3" r="1.900"/></svg><svg class="abs" style="left:218.9px;top:781px" width="18" height="18" viewBox="0 0 18 18" fill="none" stroke="#1f77ba" stroke-width="1.100" stroke-linecap="round"><circle cx="9" cy="9" r="7.700"/><path d="M8 7.600h1.200v4.300c0 .5.300.7.800.6"/><circle cx="9" cy="5" r=".5" fill="#1f77ba"/></svg><div class="abs t " style="left:256.5px;top:782px;height:17px;line-height:17px;letter-spacing:-0.45px">008</div><div class="abs t " style="left:336.2px;top:782px;height:17px;line-height:17px;letter-spacing:-0.13px">Dodavatel - školení 6</div><div class="abs t " style="left:539.2px;top:782px;height:17px;line-height:17px;letter-spacing:-0.08px">45359326</div><div class="abs t " style="left:639.2px;top:782px;height:17px;line-height:17px;letter-spacing:-0.1px">29. 5. 2025 12:34</div><div class="abs t " style="left:779.2px;top:782px;height:17px;line-height:17px;letter-spacing:-0.2px">Otevřeno</div><svg class="abs" style="left:1011.2px;top:784px" width="10" height="10" viewBox="0 0 10 10"><path d="M1.300 1.300L8.700 8.700M8.700 1.300L1.300 8.700" stroke="#cd2026" stroke-width="2.200" fill="none"/></svg><svg class="abs" style="left:1140.2px;top:784px" width="12" height="10" viewBox="0 0 12 10"><path d="M1.300 5.300L4.300 8.200L10.700 1.600" stroke="#2db432" stroke-width="2.200" fill="none"/></svg><svg class="abs" style="left:1302.8px;top:784px" width="10" height="10" viewBox="0 0 10 10"><path d="M1.300 1.300L8.700 8.700M8.700 1.300L1.300 8.700" stroke="#cd2026" stroke-width="2.200" fill="none"/></svg></div><div class="panel" style="left:164px;top:836px;width:1258px;height:516px"></div><div class="abs t b" style="left:176.5px;top:848px;height:26px;line-height:26px;font-size:18px;letter-spacing:-0.78px;color:#333">Nabídky</div><div class="abs" style="left:164px;top:877px;width:1258px;height:3px;background:#1c75b4"></div><div class="abs t gr" style="right:981.4px;top:898px;height:21px;line-height:21px;letter-spacing:-0.03px">Lhůta:</div><div class="inp" style="left:612px;top:900px;width:438px;height:21px"></div><svg class="abs" style="left:824.5px;top:903.5px;color:#8a8a8a" width="13" height="13" viewBox="0 0 16 16" fill="none" stroke="currentColor" stroke-width="1.1" stroke-linecap="round" stroke-linejoin="round"><rect x="1.500" y="3" width="13" height="11.500" rx="1.200"/><path d="M1.500 6.500h13M5 1v3.200M11 1v3.200"/></svg><div class="abs t b" style="left:845.4px;top:900px;height:21px;line-height:21px;letter-spacing:-0.29px;color:#000">13:00</div><div class="abs t b" style="left:617.3px;top:900px;height:21px;line-height:21px;letter-spacing:-0.03px;color:#000">30. 5. 2025</div><div class="abs t gr" style="right:981.4px;top:939px;height:21px;line-height:21px;letter-spacing:-0.2px">Datum a čas otevírání:</div><div class="inp" style="left:612px;top:941px;width:438px;height:21px"></div><svg class="abs" style="left:824.5px;top:944.5px;color:#8a8a8a" width="13" height="13" viewBox="0 0 16 16" fill="none" stroke="currentColor" stroke-width="1.1" stroke-linecap="round" stroke-linejoin="round"><rect x="1.500" y="3" width="13" height="11.500" rx="1.200"/><path d="M1.500 6.500h13M5 1v3.200M11 1v3.200"/></svg><div class="abs t b" style="left:617.3px;top:941px;height:21px;line-height:21px;letter-spacing:-0.03px;color:#000">30. 5. 2025</div><div class="abs t b" style="left:845.4px;top:941px;height:21px;line-height:21px;letter-spacing:-0.29px;color:#000">13:00</div><div class="btnw t" style="left:612px;top:982px;width:438px;height:20px;line-height:19px;letter-spacing:-0.3px">Odeslání výzvy k podání nabídek</div><div class="abs m" style="left:612px;top:1023.500px;width:438px;line-height:15.400px;color:#555;letter-spacing:-0.17px;text-align:justify">Některý z dodavatelů podal nabídku po lhůtě. Pro označení nabídky jako nepodané použijte Ad hoc - Označení nabídky jako nepodané.</div><div class="abs t b" style="left:179.7px;top:1073.5px;height:22px;line-height:22px;font-size:16px;letter-spacing:-0.83px;color:#333">Přehled podaných nabídek</div><div class="grid" style="left:179px;top:1099.4px;width:1228px;height:231.5999999999999px"></div><svg class="abs" style="left:189.5px;top:1113.8px;color:#1f77ba" width="17" height="17" viewBox="0 0 17 17" fill="none" stroke="currentColor" stroke-width="1.1" stroke-linecap="round" stroke-linejoin="round"><path d="M4.300 2.800H2.150a1 1 0 0 0-1 1V14.950a1 1 0 0 0 1 1H7"/><path d="M9.900 2.800H12.200a1 1 0 0 1 1 1V6.300"/><path d="M4.400 4.300V2.700h1.200c.2-1.200.9-1.900 1.500-1.900s1.300.7 1.500 1.900h1.200V4.300z"/><path d="M3.600 7.400h1M6 7.400h2.400M3.600 10h1M6 10h1.600M3.600 12.600h1"/><path d="M12.30 6.90L13.80 8.80L16.20 9.15L15.30 11.40L16.20 13.65L13.80 14.00L12.30 15.90L10.80 14.00L8.40 13.65L9.30 11.40L8.40 9.15L10.80 8.80Z"/><circle cx="12.300" cy="11.400" r="1.100"/></svg><div class="abs t lk" style="left:210.2px;top:1112.5px;height:18px;line-height:18px;letter-spacing:-0.31px">Evidovat nabídku</div><div class="abs" style="left:318px;top:1109px;width:116px;height:26px;border-radius:5px;background:#4caf50;box-shadow:0 0 0 1.500px #cfe9d0"></div><svg class="abs" style="left:324px;top:1113.8px;color:rgba(255,255,255,.88)" width="17" height="17" viewBox="0 0 17 17" fill="none" stroke="currentColor" stroke-width="1.1" stroke-linecap="round" stroke-linejoin="round"><path d="M4.300 2.800H2.150a1 1 0 0 0-1 1V14.950a1 1 0 0 0 1 1H7"/><path d="M9.900 2.800H12.200a1 1 0 0 1 1 1V6.300"/><path d="M4.400 4.300V2.700h1.200c.2-1.200.9-1.900 1.500-1.900s1.300.7 1.500 1.900h1.200V4.300z"/><path d="M3.600 7.400h1M6 7.400h2.400M3.600 10h1M6 10h1.600M3.600 12.600h1"/><path d="M12.30 6.90L13.80 8.80L16.20 9.15L15.30 11.40L16.20 13.65L13.80 14.00L12.30 15.90L10.80 14.00L8.40 13.65L9.30 11.40L8.40 9.15L10.80 8.80Z"/><circle cx="12.300" cy="11.400" r="1.100"/></svg><div class="abs t b" style="left:344px;top:1113px;height:18px;line-height:18px;font-size:12px;letter-spacing:-0.63px;color:rgba(255,255,255,.9)">Zahájit otevírání</div><svg class="abs" style="left:446.8px;top:1113.4px;color:#1f77ba" width="17" height="17" viewBox="0 0 17 17" fill="none" stroke="currentColor" stroke-width="1.1" stroke-linecap="round" stroke-linejoin="round"><path d="M4.400 4.800V0.600h8.700V4.800"/><path d="M4 11.700H1.600a1 1 0 0 1-1-1V5.800a1 1 0 0 1 1-1h13.800a1 1 0 0 1 1 1v4.900a1 1 0 0 1-1 1H13.400"/><path d="M4 8.700h9.400v7.500H4z"/><path d="M6 11.200h5.400M6 13.600h5.400"/></svg><svg class="abs" style="left:466.9px;top:1118.5px" width="7.8" height="7.0" viewBox="-1 -1 7.8 7.0"><path d="M0 0H5.8L2.9 5.0Z" fill="none" stroke="#1f77ba" stroke-width="1.1" stroke-linejoin="round"/></svg><div class="abs" style="left:485.75px;top:1112.7px;width:1.3px;height:17.700000000000045px;background:#1f77ba"></div><svg class="abs" style="left:494.5px;top:1112.9px;color:#1f77ba" width="17" height="17" viewBox="0 0 17 17" fill="none" stroke="currentColor" stroke-width="1.1" stroke-linecap="round" stroke-linejoin="round"><path d="M4.900 6.550H2.350V16.350H13.850V6.550H10.600"/><path d="M8 8.700V1.300M5.300 3.900L8 1.200L10.700 3.900"/></svg><svg class="abs" style="left:515.1px;top:1118.5px" width="7.8" height="7.0" viewBox="-1 -1 7.8 7.0"><path d="M0 0H5.8L2.9 5.0Z" fill="none" stroke="#1f77ba" stroke-width="1.1" stroke-linejoin="round"/></svg><div class="abs" style="left:533.75px;top:1112.7px;width:1.3px;height:17.700000000000045px;background:#1f77ba"></div><svg class="abs" style="left:1321.0px;top:1113.5px;color:#1f77ba" width="17" height="17" viewBox="0 0 17 17" fill="none" stroke="currentColor" stroke-width="1.1" stroke-linecap="round" stroke-linejoin="round"><path d="M1 1.100H16.300C16.300 5 13 7.200 10.350 8.200V13.400L6.950 15.600V8.200C4.300 7.200 1 5 1 1.100Z"/></svg><div class="abs" style="left:1344.75px;top:1112.9px;width:1.3px;height:17.5px;background:#1f77ba"></div><svg class="abs" style="left:1357.8px;top:1118.8px" width="7.8" height="7.0" viewBox="-1 -1 7.8 7.0"><path d="M0 0H5.8L2.9 5.0Z" fill="none" stroke="#1f77ba" stroke-width="1.1" stroke-linejoin="round"/></svg><div class="abs t lk" style="left:1373.7px;top:1115px;height:17px;line-height:17px;letter-spacing:-0.5px">MW</div><div class="abs" style="left:1402.9499999999998px;top:1112.9px;width:1.3px;height:17.5px;background:#1f77ba"></div><div class="hd" style="left:182px;top:1141.4px;width:1222px;height:36.6px"></div><div class="vl" style="left:247px;top:1141.4px;height:36.6px"></div><div class="vl" style="left:327px;top:1141.4px;height:36.6px"></div><div class="vl" style="left:531px;top:1141.4px;height:36.6px"></div><div class="vl" style="left:631px;top:1141.4px;height:36.6px"></div><div class="vl" style="left:781px;top:1141.4px;height:36.6px"></div><div class="vl" style="left:931px;top:1141.4px;height:36.6px"></div><div class="vl" style="left:1071px;top:1141.4px;height:36.6px"></div><div class="vl" style="left:1211px;top:1141.4px;height:36.6px"></div><svg class="abs" style="left:207px;top:1150.7px;color:#4a4a4a" width="16" height="16" viewBox="0 0 16 16" fill="none" stroke="currentColor" stroke-width="1" stroke-linecap="round" stroke-linejoin="round"><rect x=".700" y=".700" width="14.600" height="14.600" rx=".800"/><g stroke-width=".900"><path d="M3.500 5.800h6M12.400 5.800H12.600M3.500 11h.800M6.700 11H12.600"/><circle cx="11" cy="5.800" r="1.300"/><circle cx="5.600" cy="11" r="1.300"/></g></svg><div class="abs t b" style="left:256px;top:1149.8px;height:18px;line-height:18px;letter-spacing:-0.76px;color:#000">Číslo</div><svg class="abs" style="left:290px;top:1151.8px" width="13" height="14" viewBox="0 0 13 14"><path d="M6.500 13V1.500M1.500 6.300L6.500 1.300L11.500 6.300" fill="none" stroke="#111" stroke-width="1.300"/></svg><svg class="abs" style="left:309.6px;top:1155.4px" width="7.8" height="7" viewBox="-1 -1 7.8 7"><path d="M0 0H5.8L2.9 5Z" fill="none" stroke="#555" stroke-width="1" stroke-linejoin="round"/></svg><div class="abs t " style="left:336px;top:1149.8px;height:18px;line-height:18px;letter-spacing:-0.26px;color:#666">Název dodavatele</div><svg class="abs" style="left:513.6px;top:1155.4px" width="7.8" height="7" viewBox="-1 -1 7.8 7"><path d="M0 0H5.8L2.9 5Z" fill="none" stroke="#555" stroke-width="1" stroke-linejoin="round"/></svg><div class="abs t " style="left:540px;top:1149.8px;height:18px;line-height:18px;letter-spacing:-0.26px;color:#666">IČO</div><svg class="abs" style="left:613.6px;top:1155.4px" width="7.8" height="7" viewBox="-1 -1 7.8 7"><path d="M0 0H5.8L2.9 5Z" fill="none" stroke="#555" stroke-width="1" stroke-linejoin="round"/></svg><div class="abs t " style="left:640px;top:1149.8px;height:18px;line-height:18px;letter-spacing:-0.26px;color:#666">Datum podání</div><svg class="abs" style="left:763.6px;top:1155.4px" width="7.8" height="7" viewBox="-1 -1 7.8 7"><path d="M0 0H5.8L2.9 5Z" fill="none" stroke="#555" stroke-width="1" stroke-linejoin="round"/></svg><div class="abs t " style="left:790px;top:1149.8px;height:18px;line-height:18px;letter-spacing:-0.26px;color:#666">Stav</div><svg class="abs" style="left:913.6px;top:1155.4px" width="7.8" height="7" viewBox="-1 -1 7.8 7"><path d="M0 0H5.8L2.9 5Z" fill="none" stroke="#555" stroke-width="1" stroke-linejoin="round"/></svg><div class="abs t " style="left:940px;top:1149.8px;height:18px;line-height:18px;letter-spacing:-0.26px;color:#666">Podaná po lhůtě</div><svg class="abs" style="left:1053.6px;top:1155.4px" width="7.8" height="7" viewBox="-1 -1 7.8 7"><path d="M0 0H5.8L2.9 5Z" fill="none" stroke="#555" stroke-width="1" stroke-linejoin="round"/></svg><div class="abs t " style="left:1080px;top:1149.8px;height:18px;line-height:18px;letter-spacing:-0.26px;color:#666">Listinná podoba</div><svg class="abs" style="left:1193.6px;top:1155.4px" width="7.8" height="7" viewBox="-1 -1 7.8 7"><path d="M0 0H5.8L2.9 5Z" fill="none" stroke="#555" stroke-width="1" stroke-linejoin="round"/></svg><div class="abs t " style="left:1220px;top:1149.8px;height:18px;line-height:18px;letter-spacing:-0.26px;color:#666">Označena jako nepodaná</div><svg class="abs" style="left:1386.6px;top:1155.4px" width="7.8" height="7" viewBox="-1 -1 7.8 7"><path d="M0 0H5.8L2.9 5Z" fill="none" stroke="#555" stroke-width="1" stroke-linejoin="round"/></svg><div class="hl" style="left:182px;top:1203px;width:1222px"></div><svg class="abs" style="left:193.5px;top:1188px" width="17" height="6" viewBox="0 0 17 6" fill="none" stroke="#1f77ba" stroke-width="1.100"><circle cx="2.7" cy="3" r="1.900"/><circle cx="8.3" cy="3" r="1.900"/><circle cx="13.899999999999999" cy="3" r="1.900"/></svg><svg class="abs" style="left:218.9px;top:1182px" width="18" height="18" viewBox="0 0 18 18" fill="none" stroke="#1f77ba" stroke-width="1.100" stroke-linecap="round"><circle cx="9" cy="9" r="7.700"/><path d="M8 7.600h1.200v4.300c0 .5.300.7.800.6"/><circle cx="9" cy="5" r=".5" fill="#1f77ba"/></svg><div class="abs t " style="left:256.5px;top:1183px;height:17px;line-height:17px;letter-spacing:-0.45px">001</div><div class="abs t " style="left:336.2px;top:1183px;height:17px;line-height:17px;letter-spacing:-0.13px">Dodavatel - školení 2</div><div class="abs t " style="left:540.2px;top:1183px;height:17px;line-height:17px;letter-spacing:-0.08px">12345678</div><div class="abs t " style="left:640.2px;top:1183px;height:17px;line-height:17px;letter-spacing:-0.1px">30. 5. 2025 12:50</div><div class="abs t " style="left:790.2px;top:1183px;height:17px;line-height:17px;letter-spacing:-0.2px">Podána</div><svg class="abs" style="left:997.2px;top:1185px" width="10" height="10" viewBox="0 0 10 10"><path d="M1.300 1.300L8.700 8.700M8.700 1.300L1.300 8.700" stroke="#cd2026" stroke-width="2.200" fill="none"/></svg><svg class="abs" style="left:1137.2px;top:1185px" width="10" height="10" viewBox="0 0 10 10"><path d="M1.300 1.300L8.700 8.700M8.700 1.300L1.300 8.700" stroke="#cd2026" stroke-width="2.200" fill="none"/></svg><svg class="abs" style="left:1303.3px;top:1185px" width="10" height="10" viewBox="0 0 10 10"><path d="M1.300 1.300L8.700 8.700M8.700 1.300L1.300 8.700" stroke="#cd2026" stroke-width="2.200" fill="none"/></svg><div class="hl" style="left:182px;top:1228px;width:1222px"></div><svg class="abs" style="left:193.5px;top:1213px" width="17" height="6" viewBox="0 0 17 6" fill="none" stroke="#1f77ba" stroke-width="1.100"><circle cx="2.7" cy="3" r="1.900"/><circle cx="8.3" cy="3" r="1.900"/><circle cx="13.899999999999999" cy="3" r="1.900"/></svg><svg class="abs" style="left:218.9px;top:1207px" width="18" height="18" viewBox="0 0 18 18" fill="none" stroke="#1f77ba" stroke-width="1.100" stroke-linecap="round"><circle cx="9" cy="9" r="7.700"/><path d="M8 7.600h1.200v4.300c0 .5.300.7.800.6"/><circle cx="9" cy="5" r=".5" fill="#1f77ba"/></svg><div class="abs t " style="left:256.5px;top:1208px;height:17px;line-height:17px;letter-spacing:-0.45px">002</div><div class="abs t " style="left:336.2px;top:1208px;height:17px;line-height:17px;letter-spacing:-0.13px">Dodavatel - školení 3</div><div class="abs t " style="left:540.2px;top:1208px;height:17px;line-height:17px;letter-spacing:-0.08px">12345678</div><div class="abs t " style="left:640.2px;top:1208px;height:17px;line-height:17px;letter-spacing:-0.1px">30. 5. 2025 12:51</div><div class="abs t " style="left:790.2px;top:1208px;height:17px;line-height:17px;letter-spacing:-0.2px">Podána</div><svg class="abs" style="left:997.2px;top:1210px" width="10" height="10" viewBox="0 0 10 10"><path d="M1.300 1.300L8.700 8.700M8.700 1.300L1.300 8.700" stroke="#cd2026" stroke-width="2.200" fill="none"/></svg><svg class="abs" style="left:1137.2px;top:1210px" width="10" height="10" viewBox="0 0 10 10"><path d="M1.300 1.300L8.700 8.700M8.700 1.300L1.300 8.700" stroke="#cd2026" stroke-width="2.200" fill="none"/></svg><svg class="abs" style="left:1303.3px;top:1210px" width="10" height="10" viewBox="0 0 10 10"><path d="M1.300 1.300L8.700 8.700M8.700 1.300L1.300 8.700" stroke="#cd2026" stroke-width="2.200" fill="none"/></svg><div class="hl" style="left:182px;top:1253px;width:1222px"></div><svg class="abs" style="left:193.5px;top:1238px" width="17" height="6" viewBox="0 0 17 6" fill="none" stroke="#1f77ba" stroke-width="1.100"><circle cx="2.7" cy="3" r="1.900"/><circle cx="8.3" cy="3" r="1.900"/><circle cx="13.899999999999999" cy="3" r="1.900"/></svg><svg class="abs" style="left:218.9px;top:1232px" width="18" height="18" viewBox="0 0 18 18" fill="none" stroke="#1f77ba" stroke-width="1.100" stroke-linecap="round"><circle cx="9" cy="9" r="7.700"/><path d="M8 7.600h1.200v4.300c0 .5.300.7.800.6"/><circle cx="9" cy="5" r=".5" fill="#1f77ba"/></svg><div class="abs t " style="left:256.5px;top:1233px;height:17px;line-height:17px;letter-spacing:-0.45px">003</div><div class="abs t " style="left:336.2px;top:1233px;height:17px;line-height:17px;letter-spacing:-0.13px">Dodavatel - školení 4</div><div class="abs t " style="left:540.2px;top:1233px;height:17px;line-height:17px;letter-spacing:-0.08px">12345678</div><div class="abs t " style="left:640.2px;top:1233px;height:17px;line-height:17px;letter-spacing:-0.1px">30. 5. 2025 12:52</div><div class="abs t " style="left:790.2px;top:1233px;height:17px;line-height:17px;letter-spacing:-0.2px">Podána</div><svg class="abs" style="left:997.2px;top:1235px" width="10" height="10" viewBox="0 0 10 10"><path d="M1.300 1.300L8.700 8.700M8.700 1.300L1.300 8.700" stroke="#cd2026" stroke-width="2.200" fill="none"/></svg><svg class="abs" style="left:1137.2px;top:1235px" width="10" height="10" viewBox="0 0 10 10"><path d="M1.300 1.300L8.700 8.700M8.700 1.300L1.300 8.700" stroke="#cd2026" stroke-width="2.200" fill="none"/></svg><svg class="abs" style="left:1303.3px;top:1235px" width="10" height="10" viewBox="0 0 10 10"><path d="M1.300 1.300L8.700 8.700M8.700 1.300L1.300 8.700" stroke="#cd2026" stroke-width="2.200" fill="none"/></svg><div class="hl" style="left:182px;top:1278px;width:1222px"></div><svg class="abs" style="left:193.5px;top:1263px" width="17" height="6" viewBox="0 0 17 6" fill="none" stroke="#1f77ba" stroke-width="1.100"><circle cx="2.7" cy="3" r="1.900"/><circle cx="8.3" cy="3" r="1.900"/><circle cx="13.899999999999999" cy="3" r="1.900"/></svg><svg class="abs" style="left:218.9px;top:1257px" width="18" height="18" viewBox="0 0 18 18" fill="none" stroke="#1f77ba" stroke-width="1.100" stroke-linecap="round"><circle cx="9" cy="9" r="7.700"/><path d="M8 7.600h1.200v4.300c0 .5.300.7.800.6"/><circle cx="9" cy="5" r=".5" fill="#1f77ba"/></svg><div class="abs t " style="left:256.5px;top:1258px;height:17px;line-height:17px;letter-spacing:-0.45px">004</div><div class="abs t " style="left:336.2px;top:1258px;height:17px;line-height:17px;letter-spacing:-0.13px">Dodavatel - školení 6</div><div class="abs t " style="left:540.2px;top:1258px;height:17px;line-height:17px;letter-spacing:-0.08px">45359326</div><div class="abs t " style="left:640.2px;top:1258px;height:17px;line-height:17px;letter-spacing:-0.1px">30. 5. 2025 12:53</div><div class="abs t " style="left:790.2px;top:1258px;height:17px;line-height:17px;letter-spacing:-0.2px">Podána</div><svg class="abs" style="left:997.2px;top:1260px" width="10" height="10" viewBox="0 0 10 10"><path d="M1.300 1.300L8.700 8.700M8.700 1.300L1.300 8.700" stroke="#cd2026" stroke-width="2.200" fill="none"/></svg><svg class="abs" style="left:1137.2px;top:1260px" width="10" height="10" viewBox="0 0 10 10"><path d="M1.300 1.300L8.700 8.700M8.700 1.300L1.300 8.700" stroke="#cd2026" stroke-width="2.200" fill="none"/></svg><svg class="abs" style="left:1303.3px;top:1260px" width="10" height="10" viewBox="0 0 10 10"><path d="M1.300 1.300L8.700 8.700M8.700 1.300L1.300 8.700" stroke="#cd2026" stroke-width="2.200" fill="none"/></svg><div class="hl" style="left:182px;top:1303px;width:1222px"></div><svg class="abs" style="left:193.5px;top:1288px" width="17" height="6" viewBox="0 0 17 6" fill="none" stroke="#1f77ba" stroke-width="1.100"><circle cx="2.7" cy="3" r="1.900"/><circle cx="8.3" cy="3" r="1.900"/><circle cx="13.899999999999999" cy="3" r="1.900"/></svg><svg class="abs" style="left:218.9px;top:1282px" width="18" height="18" viewBox="0 0 18 18" fill="none" stroke="#1f77ba" stroke-width="1.100" stroke-linecap="round"><circle cx="9" cy="9" r="7.700"/><path d="M8 7.600h1.200v4.300c0 .5.300.7.800.6"/><circle cx="9" cy="5" r=".5" fill="#1f77ba"/></svg><div class="abs t " style="left:256.5px;top:1283px;height:17px;line-height:17px;letter-spacing:-0.45px">005</div><div class="abs t " style="left:336.2px;top:1283px;height:17px;line-height:17px;letter-spacing:-0.13px">Dodavatel - školení 6</div><div class="abs t " style="left:540.2px;top:1283px;height:17px;line-height:17px;letter-spacing:-0.08px">45359326</div><div class="abs t " style="left:640.2px;top:1283px;height:17px;line-height:17px;letter-spacing:-0.1px">30. 5. 2025 12:59</div><div class="abs t " style="left:790.2px;top:1283px;height:17px;line-height:17px;letter-spacing:-0.2px">Podána</div><svg class="abs" style="left:997.2px;top:1285px" width="10" height="10" viewBox="0 0 10 10"><path d="M1.300 1.300L8.700 8.700M8.700 1.300L1.300 8.700" stroke="#cd2026" stroke-width="2.200" fill="none"/></svg><svg class="abs" style="left:1136.2px;top:1285px" width="12" height="10" viewBox="0 0 12 10"><path d="M1.300 5.300L4.300 8.200L10.700 1.600" stroke="#2db432" stroke-width="2.200" fill="none"/></svg><svg class="abs" style="left:1303.3px;top:1285px" width="10" height="10" viewBox="0 0 10 10"><path d="M1.300 1.300L8.700 8.700M8.700 1.300L1.300 8.700" stroke="#cd2026" stroke-width="2.200" fill="none"/></svg><svg class="abs" style="left:193.5px;top:1313px" width="17" height="6" viewBox="0 0 17 6" fill="none" stroke="#1f77ba" stroke-width="1.100"><circle cx="2.7" cy="3" r="1.900"/><circle cx="8.3" cy="3" r="1.900"/><circle cx="13.899999999999999" cy="3" r="1.900"/></svg><svg class="abs" style="left:218.9px;top:1307px" width="18" height="18" viewBox="0 0 18 18" fill="none" stroke="#1f77ba" stroke-width="1.100" stroke-linecap="round"><circle cx="9" cy="9" r="7.700"/><path d="M8 7.600h1.200v4.300c0 .5.300.7.800.6"/><circle cx="9" cy="5" r=".5" fill="#1f77ba"/></svg><div class="abs t " style="left:256.5px;top:1308px;height:17px;line-height:17px;letter-spacing:-0.45px">006</div><div class="abs t " style="left:336.2px;top:1308px;height:17px;line-height:17px;letter-spacing:-0.13px">Dodavatel - školení 7</div><div class="abs t " style="left:540.2px;top:1308px;height:17px;line-height:17px;letter-spacing:-0.08px">12345678</div><div class="abs t " style="left:640.2px;top:1308px;height:17px;line-height:17px;letter-spacing:-0.1px">30. 5. 2025 13:22</div><div class="abs t " style="left:790.2px;top:1308px;height:17px;line-height:17px;letter-spacing:-0.2px">Podána po lhůtě</div><svg class="abs" style="left:996.2px;top:1310px" width="12" height="10" viewBox="0 0 12 10"><path d="M1.300 5.300L4.300 8.200L10.700 1.600" stroke="#2db432" stroke-width="2.200" fill="none"/></svg><svg class="abs" style="left:1137.2px;top:1310px" width="10" height="10" viewBox="0 0 10 10"><path d="M1.300 1.300L8.700 8.700M8.700 1.300L1.300 8.700" stroke="#cd2026" stroke-width="2.200" fill="none"/></svg><svg class="abs" style="left:1303.3px;top:1310px" width="10" height="10" viewBox="0 0 10 10"><path d="M1.300 1.300L8.700 8.700M8.700 1.300L1.300 8.700" stroke="#cd2026" stroke-width="2.200" fill="none"/></svg><div class="abs" style="left:312px;top:1101px;width:123.700px;height:39.300px;border:1px solid #e8202a;box-sizing:content-box"></div></body></html>
